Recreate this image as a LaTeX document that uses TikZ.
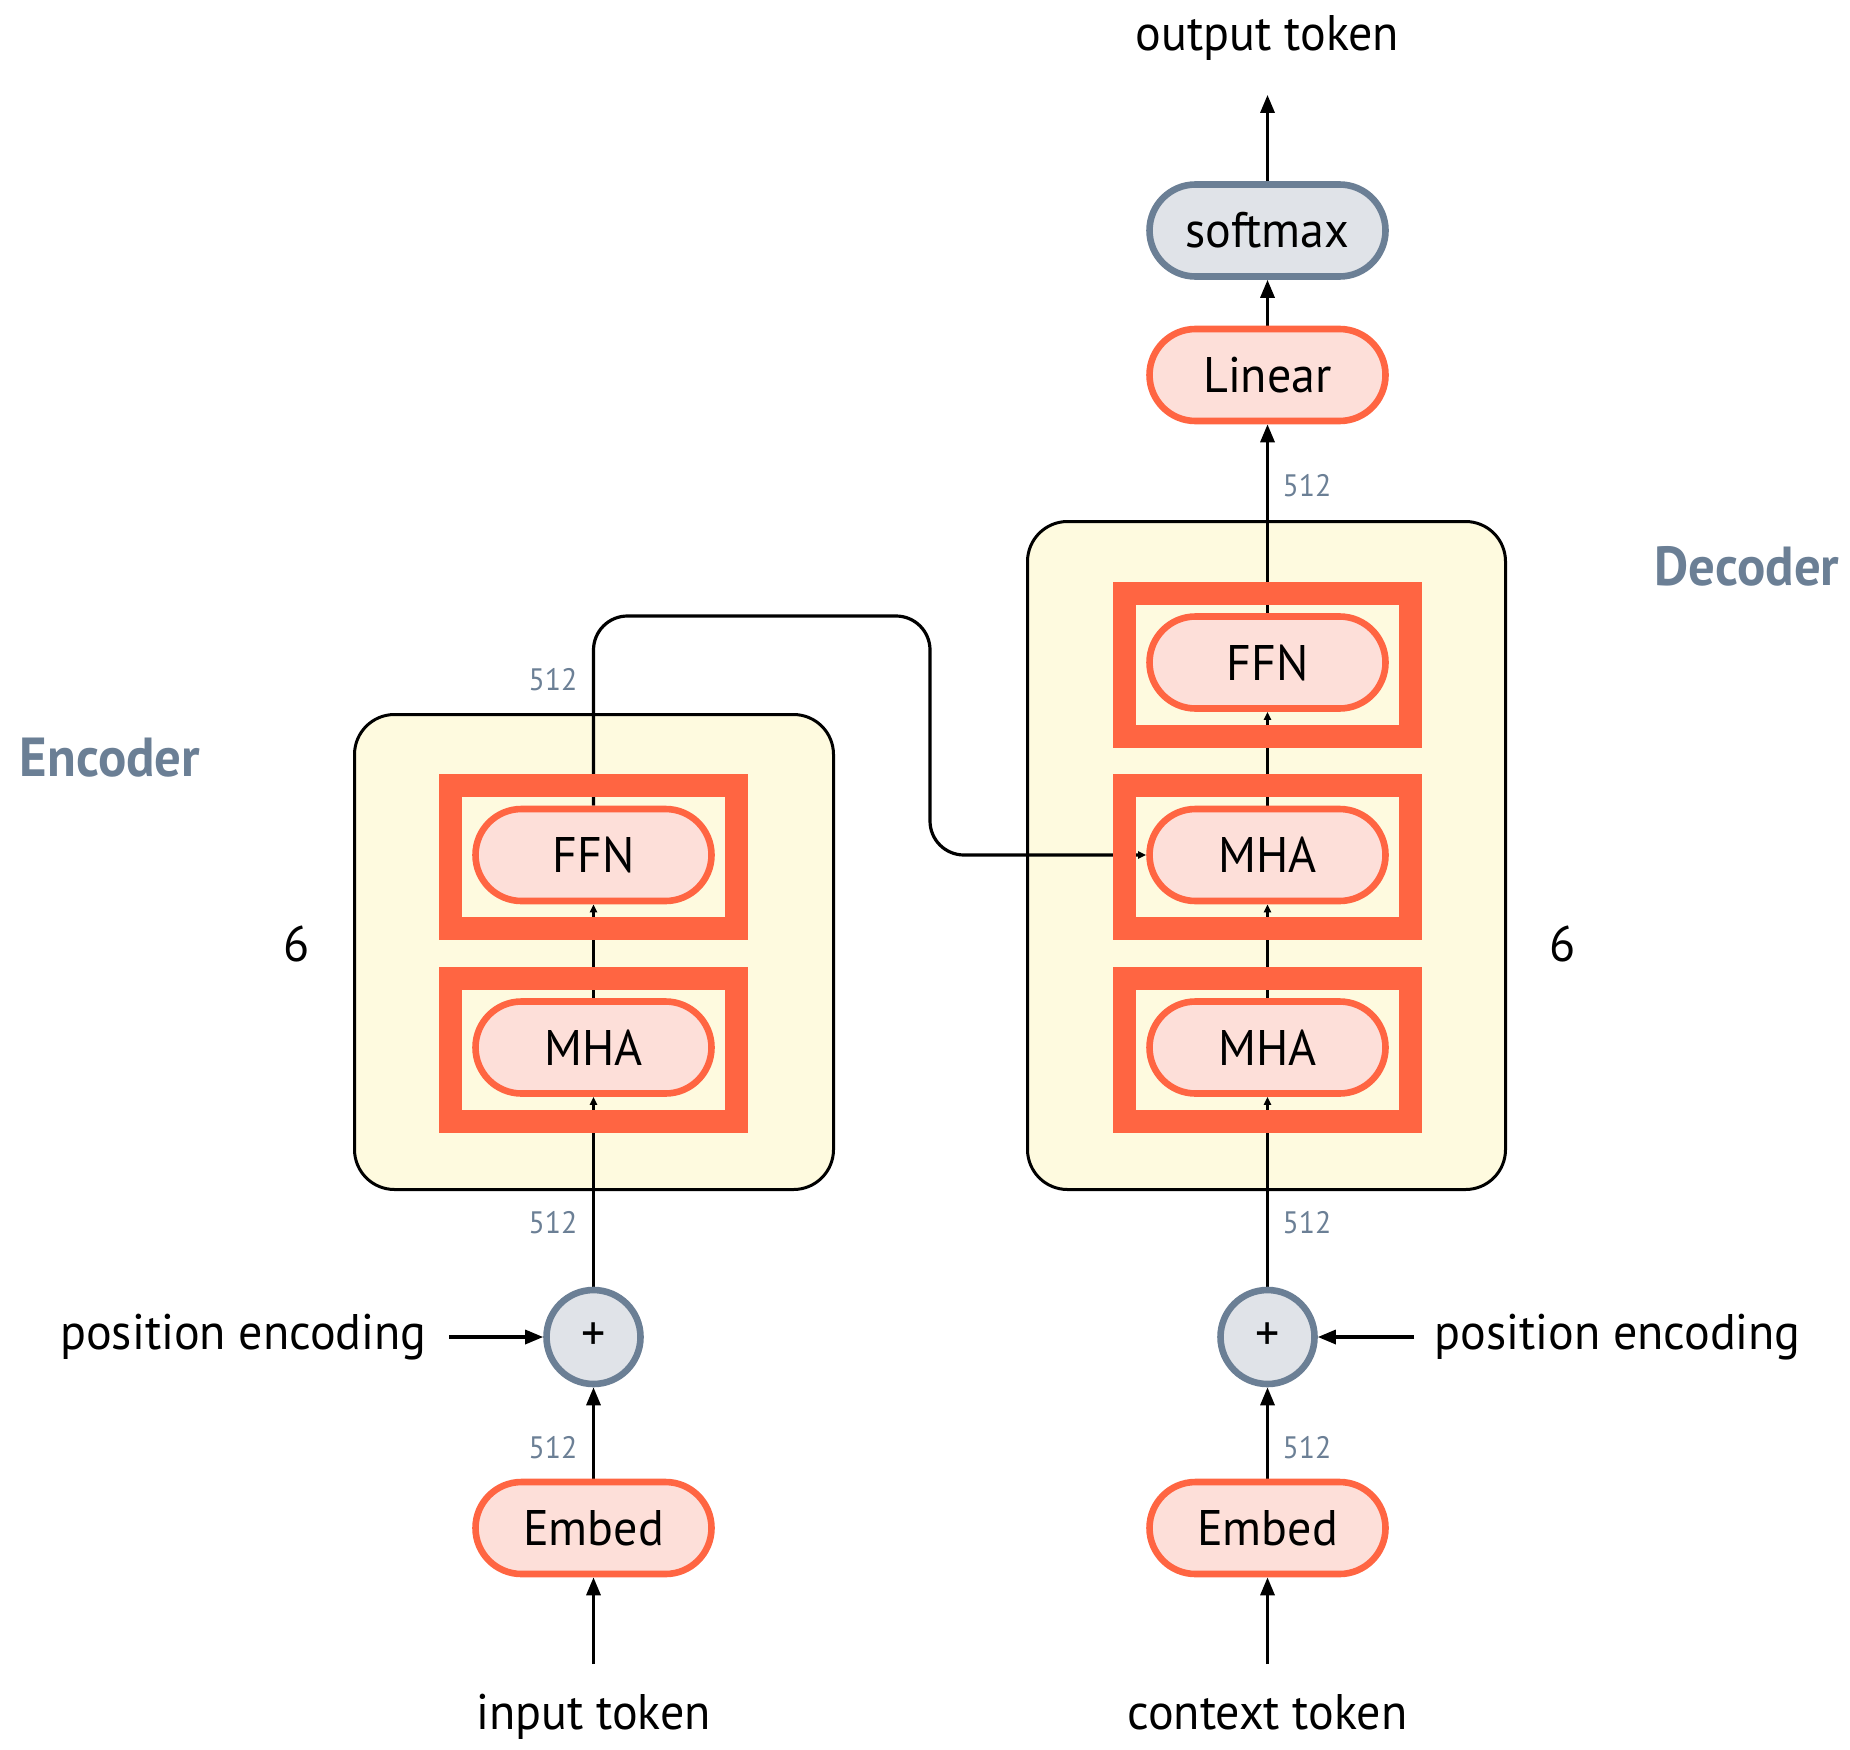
\documentclass[tikz,border=0pt]{standalone}
\usepackage{fontspec}
\setmainfont{PT Sans}[FakeStretch=0.96]
\usetikzlibrary{arrows.meta}
\definecolor{orng}{HTML}{FF6542}
\definecolor{pillfill}{HTML}{FDDFD9}
\definecolor{cream}{HTML}{FEFADF}
\definecolor{slate}{HTML}{6B7F95}
\definecolor{greyfill}{HTML}{E0E3E8}
\pgfdeclarelayer{bg}
\pgfdeclarelayer{fg}
\pgfsetlayers{bg,main,fg}
\begin{document}
\begin{tikzpicture}[x=0.5pt,y=-0.5pt,
 pill/.style={draw=orng, line width=3.3pt, fill=pillfill, rounded corners=23pt, minimum width=118pt, minimum height=46pt, inner sep=0pt, font=\fontsize{25}{30}\selectfont},
 gpill/.style={pill, draw=slate, fill=greyfill},
 frm/.style={draw=orng, line width=11.5pt, minimum width=143pt, minimum height=71.5pt, inner sep=0pt},
 box/.style={draw=black, line width=1.5pt, fill=cream, rounded corners=20pt, inner sep=0pt},
 lbl/.style={font=\fontsize{25}{30}\selectfont, inner sep=0pt, text height=18.5pt, text depth=6pt},
 dim/.style={font=\fontsize{15.5}{18}\selectfont, text=slate, inner sep=0pt},
 ttl/.style={font=\bfseries\fontsize{27.5}{32}\selectfont, text=slate, inner sep=0pt},
 conn/.style={line width=1.6pt},
 arr/.style={conn, -{Triangle[length=9pt,width=7pt]}},
 sarr/.style={conn, -{Triangle[length=4pt,width=3.5pt]}},
 plusnode/.style={circle, draw=slate, fill=greyfill, line width=3.3pt, minimum size=47pt, inner sep=0pt, font=\fontsize{25}{30}\selectfont}]
\useasboundingbox (0,0) rectangle (1850,1749);

% foreground: frames and pills
\begin{pgfonlayer}{fg}
\node[frm] (efr1) at (593.5,857) {};
\node[frm] (efr2) at (593.5,1049.5) {};
\node[frm] (dfr1) at (1267.5,664.5) {};
\node[frm] (dfr2) at (1267.5,857) {};
\node[frm] (dfr3) at (1267.5,1049.5) {};
\node[pill] (effn) at (593.5,855) {FFN};
\node[pill] (emha) at (593.5,1047.5) {MHA};
\node[pill] (dffn) at (1267.5,662.5) {FFN};
\node[pill] (dmha2) at (1267.5,855) {MHA};
\node[pill] (dmha1) at (1267.5,1047.5) {MHA};
\node[pill] (lin) at (1267.5,375) {Linear};
\node[gpill] (soft) at (1267.5,230.5) {softmax};
\node[plusnode] (p1) at (593.5,1337) {+};
\node[plusnode] (p2) at (1267.5,1337) {+};
\node[pill] (emb1) at (593.5,1528) {Embed};
\node[pill] (emb2) at (1267.5,1528) {Embed};
\end{pgfonlayer}

% background boxes
\begin{pgfonlayer}{bg}
\node[box, minimum width=239.5pt, minimum height=237.5pt] (encbox) at (594,952) {};
\node[box, minimum width=239pt, minimum height=334pt] (decbox) at (1266.5,855.5) {};
\end{pgfonlayer}

% labels
\node[lbl] (outtok) at (1267.5,38) {output token};
\node[lbl] (intok) at (593.5,1717) {input token};
\node[lbl] (ctxtok) at (1267.5,1717) {context token};
\node[lbl, anchor=east] (pe1) at (427,1337) {position encoding};
\node[lbl, anchor=west] (pe2) at (1434,1337) {position encoding};
\node[ttl] (enclbl) at (110,758) {Encoder};
\node[ttl] (declbl) at (1747,566) {Decoder};
\node[lbl] (n6a) at (297,949) {6};
\node[lbl] (n6b) at (1563,949) {6};
\node[dim] (d1) at (553,680) {512};
\node[dim] (d2) at (553,1223) {512};
\node[dim] (d3) at (553,1448) {512};
\node[dim] (d4) at (1307,486) {512};
\node[dim] (d5) at (1307,1223) {512};
\node[dim] (d6) at (1307,1448) {512};

\coordinate (c1) at (593.5,616);
\coordinate (c2) at (930,616);
\coordinate (c3) at (930,855);

% connectors
\draw[arr, shorten <=14pt] (intok.north) -- (emb1.south);
\draw[arr, shorten <=14pt] (ctxtok.north) -- (emb2.south);
\draw[arr] (emb1.north) -- (p1.south);
\draw[arr] (emb2.north) -- (p2.south);
\draw[arr, shorten <=11pt] (pe1.east) -- (p1.west);
\draw[arr, shorten <=10pt] (pe2.west) -- (p2.east);
\draw[sarr] (p1.north) -- (emha.south);
\draw[sarr] (emha.north) -- (effn.south);
\draw[sarr, rounded corners=17pt] (effn.north) -- (c1) -- (c2) -- (c3) -- (dmha2.west);
\draw[sarr] (p2.north) -- (dmha1.south);
\draw[sarr] (dmha1.north) -- (dmha2.south);
\draw[sarr] (dmha2.north) -- (dffn.south);
\draw[arr] (dffn.north) -- (lin.south);
\draw[arr] (lin.north) -- (soft.south);
\draw[arr, shorten >=16pt] (soft.north) -- (outtok.south);
\end{tikzpicture}
\end{document}
